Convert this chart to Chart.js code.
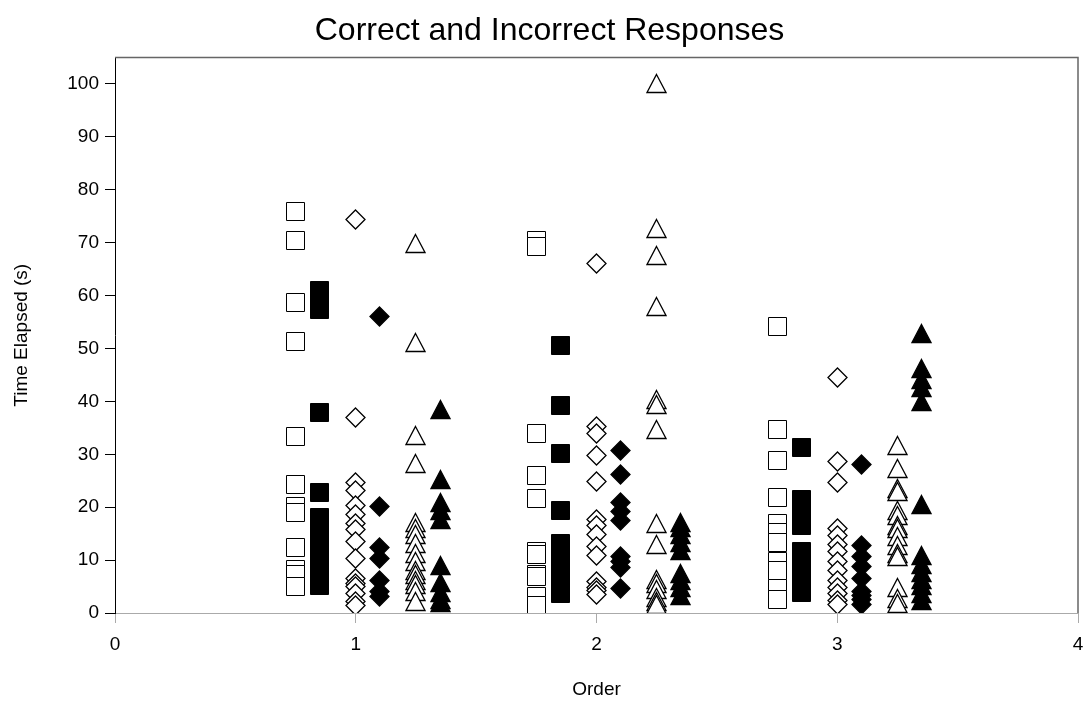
<!DOCTYPE html>
<html>
<head>
<meta charset="utf-8">
<title>Correct and Incorrect Responses</title>
<script src="https://cdn.jsdelivr.net/npm/chart.js@4/dist/chart.umd.min.js"></script>
<style>
  html, body { margin: 0; padding: 0; background: #fff; }
  #wrap { width: 1089px; height: 705px; position: relative; }
</style>
</head>
<body>
<div id="wrap"><canvas id="responseChart"></canvas></div>
<script>
// ── Data ──────────────────────────────────

const orders = [1, 2, 3];
const xTicks = [0, 1, 2, 3, 4];
const yTicks = [0, 10, 20, 30, 40, 50, 60, 70, 80, 90, 100];

// offset of each series from its order value
const seriesOffset = [-0.25, -0.15, 0, 0.1, 0.25, 0.35];

// one list per order (1, 2, 3)
const openSquares = [
  [75.8, 70.4, 58.7, 51.3, 33.3, 24.2, 20.2, 19.0, 12.4, 8.3, 7.2, 5.1],
  [70.4, 69.2, 33.9, 26.0, 21.6, 11.7, 11.1, 7.2, 6.9, 3.1, 1.4],
  [54.2, 34.6, 28.9, 21.9, 17.0, 15.2, 13.3, 9.7, 8.1, 4.7, 2.5]
];
const filledSquares = [
  [61.0, 59.2, 57.3, 37.9, 22.8, 18.0, 16.2, 14.4, 12.6, 10.8, 9.0, 7.2, 5.2],
  [50.5, 39.3, 30.1, 19.4, 13.1, 11.4, 9.7, 8.0, 6.3, 4.8, 3.7],
  [31.2, 21.5, 19.8, 18.1, 16.5, 11.7, 10.0, 8.3, 6.6, 5.1, 3.8]
];
const openDiamonds = [
  [74.3, 37.0, 24.7, 23.1, 20.4, 18.7, 17.0, 15.8, 13.5, 10.3, 6.5, 5.6, 5.0, 3.7, 2.1, 1.5],
  [66.0, 35.3, 34.0, 29.7, 24.8, 17.7, 16.6, 14.9, 12.5, 10.9, 5.9, 4.8, 4.2, 3.5],
  [44.6, 28.7, 24.6, 16.0, 14.6, 13.0, 11.6, 9.7, 8.0, 6.1, 4.8, 3.6, 2.3, 1.7]
];
const filledDiamonds = [
  [56.0, 20.2, 12.3, 10.3, 6.2, 4.1, 3.1],
  [30.8, 26.2, 20.9, 19.1, 17.5, 10.6, 9.7, 8.6, 4.7],
  [28.0, 12.7, 10.7, 8.8, 6.5, 4.1, 3.3, 2.5, 1.7]
];
const openTriangles = [
  [69.8, 51.2, 33.5, 28.3, 17.1, 16.0, 14.8, 13.1, 11.3, 9.7, 8.1, 7.2, 6.2, 5.3, 4.0, 2.1],
  [100.0, 72.6, 67.5, 58.0, 40.4, 39.4, 34.6, 17.0, 13.0, 6.4, 5.5, 4.5, 3.0, 2.1, 1.6],
  [31.6, 27.3, 23.6, 22.9, 19.4, 18.4, 16.6, 16.0, 14.4, 12.8, 11.3, 10.6, 4.8, 2.8, 1.8]
];
const filledTriangles = [
  [38.4, 25.3, 20.9, 19.3, 17.7, 8.9, 5.7, 3.8, 2.5, 2.0],
  [17.2, 16.2, 14.9, 13.3, 11.8, 7.4, 6.1, 4.8, 3.3],
  [52.8, 46.2, 44.2, 42.7, 39.9, 20.6, 10.8, 9.2, 7.7, 6.4, 5.2, 3.6, 2.3]
];

// ── Markers ───────────────────────────────

function makeMarker(shape, filled) {
  const c = document.createElement('canvas');
  c.width = 21; c.height = 21;
  const g = c.getContext('2d');
  g.beginPath();
  if (shape === 'square') {
    g.rect(1.5, 1.5, 18, 18);
  } else if (shape === 'diamond') {
    g.moveTo(10.5, 1); g.lineTo(20, 10.5); g.lineTo(10.5, 20); g.lineTo(1, 10.5);
    g.closePath();
  } else {
    g.moveTo(10.5, 1.5); g.lineTo(20, 19.5); g.lineTo(1, 19.5);
    g.closePath();
  }
  g.fillStyle = filled ? '#000' : '#fff';
  g.fill();
  g.lineWidth = shape === 'square' ? 1 : 1.3;
  g.strokeStyle = '#000';
  g.stroke();
  return c;
}

function toPoints(lists, offset) {
  const pts = [];
  lists.forEach((vals, i) => {
    vals.forEach(v => pts.push({ x: orders[i] + offset, y: v }));
  });
  return pts;
}

const series = [
  { label: 'Open square',    lists: openSquares,     shape: 'square',   filled: false },
  { label: 'Filled square',  lists: filledSquares,   shape: 'square',   filled: true  },
  { label: 'Open diamond',   lists: openDiamonds,    shape: 'diamond',  filled: false },
  { label: 'Filled diamond', lists: filledDiamonds,  shape: 'diamond',  filled: true  },
  { label: 'Open triangle',  lists: openTriangles,   shape: 'triangle', filled: false },
  { label: 'Filled triangle',lists: filledTriangles, shape: 'triangle', filled: true  }
];

// ── Frame plugin (top + right border, crisp markers) ──

const framePlugin = {
  id: 'frame',
  beforeDatasetsDraw(chart) {
    const { ctx, chartArea: a } = chart;
    ctx.save();
    ctx.strokeStyle = '#666';
    ctx.lineWidth = 1.5;
    ctx.beginPath();
    ctx.moveTo(a.left, a.top);
    ctx.lineTo(a.right, a.top);
    ctx.lineTo(a.right, a.bottom);
    ctx.stroke();
    ctx.restore();
    ctx.imageSmoothingEnabled = false;
  },
  afterDatasetsDraw(chart) {
    chart.ctx.imageSmoothingEnabled = true;
  }
};

// ── Chart Setup ───────────────────────────

const font = 'Liberation Sans, Arial, sans-serif';

new Chart(document.getElementById('responseChart').getContext('2d'), {
  type: 'scatter',
  data: {
    datasets: series.map((s, i) => ({
      label: s.label,
      data: toPoints(s.lists, seriesOffset[i]),
      pointStyle: makeMarker(s.shape, s.filled),
      pointRadius: 10,
      pointHoverRadius: 10
    }))
  },
  options: {
    responsive: true,
    maintainAspectRatio: false,
    animation: false,
    events: [],
    layout: { padding: { left: 19, right: 9, top: 0, bottom: 0 } },
    plugins: {
      legend: { display: false },
      tooltip: { enabled: false },
      title: {
        display: true,
        text: 'Correct and Incorrect Responses',
        color: '#000',
        font: { family: font, size: 32, weight: 'normal', lineHeight: 1.2 },
        padding: { top: 12, bottom: 7.1 }
      }
    },
    scales: {
      x: {
        type: 'linear',
        min: 0,
        max: 4,
        afterBuildTicks: scale => { scale.ticks = xTicks.map(v => ({ value: v })); },
        afterFit: scale => {
          scale.height = 92;
          scale.paddingLeft = 0;
          scale.paddingRight = 0;
        },
        ticks: { color: '#000', font: { family: font, size: 19 }, padding: 10 },
        grid: { drawOnChartArea: false, drawTicks: true, tickLength: 10, color: '#aaa' },
        border: { color: '#aaa', width: 1 },
        title: {
          display: true,
          text: 'Order',
          color: '#000',
          font: { family: font, size: 19, lineHeight: 1.2 },
          padding: { top: 0, bottom: 4 }
        }
      },
      y: {
        type: 'linear',
        min: 0,
        max: 105,
        afterBuildTicks: scale => { scale.ticks = yTicks.map(v => ({ value: v })); },
        afterFit: scale => { scale.width = 96; },
        ticks: { color: '#000', font: { family: font, size: 19 }, padding: 6 },
        grid: { drawOnChartArea: false, drawTicks: true, tickLength: 10, color: '#000' },
        border: { color: '#000', width: 1 },
        title: {
          display: true,
          text: 'Time Elapsed (s)',
          color: '#000',
          font: { family: font, size: 19, lineHeight: 1.2 },
          padding: { top: -8.4, bottom: 0 }
        }
      }
    }
  },
  plugins: [framePlugin]
});
</script>
</body>
</html>
